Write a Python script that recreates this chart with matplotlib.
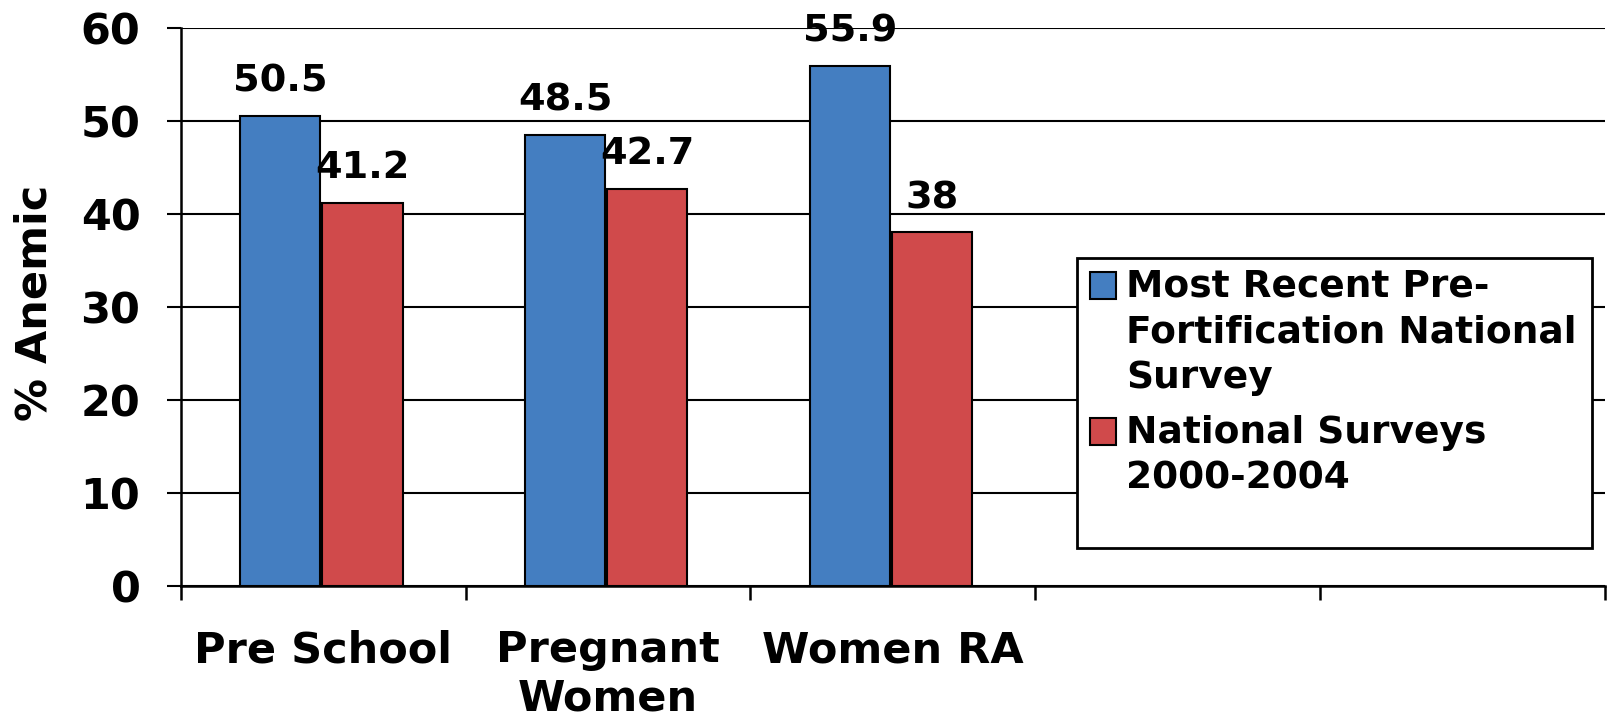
import numpy as np
from matplotlib import pyplot as plt
from matplotlib.patches import Rectangle

# data
groups = ['Pre School', 'Pregnant\nWomen', 'Women RA', '', '']
pre_fortification = [50.5, 48.5, 55.9]
surveys_2000_2004 = [41.2, 42.7, 38]
series_names = ['Most Recent Pre-\nFortification National\nSurvey',
                'National Surveys\n2000-2004']
y_ticks = [0, 10, 20, 30, 40, 50, 60]

blue = '#447ec1'
red = '#d04a4b'
W, H = 1608, 722

plt.rcParams['font.family'] = ['DejaVu Sans']
plt.rcParams['font.weight'] = 'bold'


def fx(px):
    return px / W


def fy(py):
    return 1 - py / H


fig = plt.figure(figsize=(W / 100, H / 100), dpi=100)
ax = fig.add_axes([fx(180.7), fy(586), fx(1605 - 180.7), (586 - 27.7) / H])

width = 0.282
x = np.arange(len(pre_fortification))
b1 = ax.bar(x - 0.151, pre_fortification, width, color=blue,
            edgecolor='black', linewidth=1.5, zorder=3)
b2 = ax.bar(x + 0.138, surveys_2000_2004, width, color=red,
            edgecolor='black', linewidth=1.5, zorder=3)

for bars, vals in ((b1, pre_fortification), (b2, surveys_2000_2004)):
    for bar, v in zip(bars, vals):
        ax.annotate('{:g}'.format(v), (bar.get_x() + bar.get_width() / 2, v),
                    xytext=(0, 17.5), textcoords='offset points',
                    ha='center', va='baseline', fontsize=27.5, fontweight='bold')

ax.set_xlim(-0.5, len(groups) - 0.5)
ax.set_ylim(0, 60)
ax.set_yticks(y_ticks)
ax.yaxis.grid(True, color='black', linewidth=1.5, zorder=0)
ax.set_axisbelow(True)

# boundaries get the tick marks, names sit at the centres
ax.set_xticks(np.arange(len(groups) + 1) - 0.5)
ax.set_xticklabels([])
ax.set_xticks(np.arange(len(groups)), minor=True)
ax.set_xticklabels(groups, minor=True, fontsize=31, fontweight='bold',
                   linespacing=1.2, va='top')
ax.tick_params(axis='x', which='minor', length=0, pad=31)
ax.tick_params(axis='x', which='major', length=10, width=1.8, direction='out')
ax.tick_params(axis='y', length=10, width=1.5, pad=19, labelsize=31)
for t in ax.get_yticklabels():
    t.set_fontweight('bold')

for side in ('top', 'right'):
    ax.spines[side].set_visible(False)
for side in ('left', 'bottom'):
    ax.spines[side].set_linewidth(1.8)

ax.set_ylabel('% Anemic', fontsize=31, fontweight='bold')
ax.yaxis.set_label_coords(-0.088, 0.507)

# legend, laid out by hand so the swatch sits on the first line
fig.patches.append(Rectangle((fx(1077.3), fy(548)), (1591.7 - 1077.3) / W,
                             (548 - 258.3) / H, transform=fig.transFigure,
                             facecolor='white', edgecolor='black',
                             linewidth=2, zorder=4))
line_step = 45.6
for name, color, base in ((series_names[0], blue, 297),
                          (series_names[1], red, 443)):
    fig.patches.append(Rectangle((fx(1089.5), fy(base + 2)), 26.5 / W,
                                 27 / H, transform=fig.transFigure,
                                 facecolor=color, edgecolor='black',
                                 linewidth=1.5, zorder=5))
    for i, line in enumerate(name.split('\n')):
        fig.text(fx(1126), fy(base + i * line_step), line, fontsize=27,
                 fontweight='bold', ha='left', va='baseline', zorder=6)

fig.savefig('out.png', dpi=100, facecolor='white')
